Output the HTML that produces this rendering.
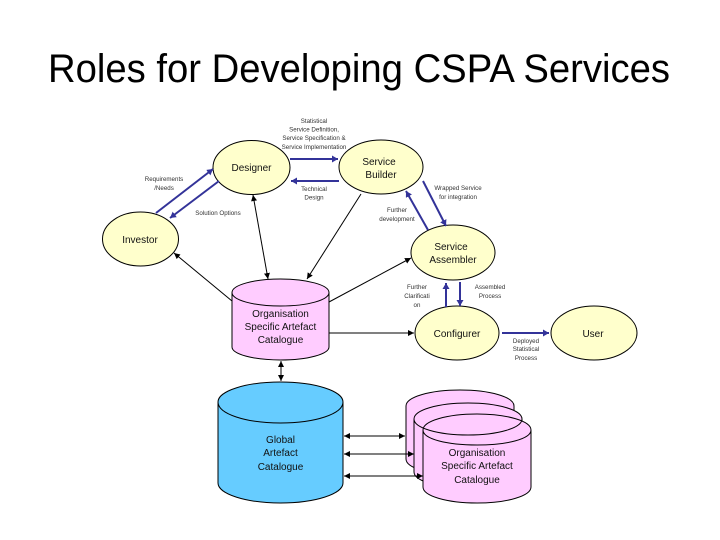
<!DOCTYPE html>
<html><head><meta charset="utf-8"><style>
html,body{margin:0;padding:0;background:#fff}
svg{display:block}
text{font-family:"Liberation Sans",sans-serif;text-anchor:middle}
.n{font-size:10px;fill:#111}
.s{font-size:6.2px;fill:#333}
.e{fill:#ffffcc;stroke:#000;stroke-width:1}
.p{fill:#ffccff;stroke:#000;stroke-width:1}
.b{fill:#66ccff;stroke:#000;stroke-width:1}
.t{stroke:#000;stroke-width:1;fill:none;marker-end:url(#k)}
.d{stroke:#000;stroke-width:1;fill:none;marker-end:url(#k);marker-start:url(#ks)}
.h{stroke:#333399;stroke-width:2;fill:none;marker-end:url(#u)}
</style></head><body>
<svg width="720" height="540" viewBox="0 0 720 540" xmlns="http://www.w3.org/2000/svg">
<defs>
<marker id="k" markerWidth="7" markerHeight="6" refX="6" refY="3" orient="auto" markerUnits="userSpaceOnUse"><path d="M0 0L6 3L0 6z" fill="#000"/></marker>
<marker id="ks" markerWidth="7" markerHeight="6" refX="0" refY="3" orient="auto" markerUnits="userSpaceOnUse"><path d="M6 0L0 3L6 6z" fill="#000"/></marker>
<marker id="u" markerWidth="7" markerHeight="7" refX="6" refY="3.5" orient="auto" markerUnits="userSpaceOnUse"><path d="M0 0L6 3.5L0 7z" fill="#333399"/></marker>
</defs>
<text x="359" y="82" font-size="40" fill="#000" textLength="622" lengthAdjust="spacingAndGlyphs">Roles for Developing CSPA Services</text>

<ellipse class="e" cx="251.5" cy="167.5" rx="38.5" ry="27"/>
<ellipse class="e" cx="381" cy="167" rx="42" ry="27"/>
<ellipse class="e" cx="140.5" cy="239" rx="38" ry="27"/>
<ellipse class="e" cx="453" cy="252.5" rx="42" ry="27.5"/>
<ellipse class="e" cx="457" cy="333" rx="42" ry="27"/>
<ellipse class="e" cx="594" cy="333" rx="43" ry="27"/>

<path class="p" d="M232 292.5V347C232 354 253 360 280.500 360S329 354 329 347V292.500C329 285 307 279 280.500 279S232 285 232 292.500Z"/>
<path fill="none" stroke="#000" d="M232 292.500C232 300 253 306 280.500 306S329 300 329 292.500"/>

<path class="b" d="M218 402V483C218 494 246 503 280.500 503S343 494 343 483V402C343 391 315 382 280.500 382S218 391 218 402Z"/>
<path fill="none" stroke="#000" d="M218 402C218 414 246 423 280.500 423S343 414 343 402"/>

<path class="p" d="M406 406V459C406 468 430 475 460 475S514 468 514 459V406C514 397 490 390 460 390S406 397 406 406Z"/>
<path class="p" d="M414 419V472C414 481 438 488 468 488S522 481 522 472V419C522 410 498 403 468 403S414 410 414 419Z"/>
<path class="p" d="M423 430V487C423 496 447 503 477 503S531 496 531 487V430C531 421 507 414 477 414S423 421 423 430Z"/>
<path fill="none" stroke="#000" d="M414 419C414 428 438 435 468 435S522 428 522 419M423 430C423 439 447 445 477 445S531 439 531 430"/>

<line class="h" x1="290" y1="159" x2="338" y2="159"/>
<line class="h" x1="339" y1="181" x2="291" y2="181"/>
<line class="h" x1="156" y1="213" x2="213" y2="169"/>
<line class="h" x1="219" y1="181" x2="170" y2="218"/>
<line class="h" x1="423" y1="181" x2="446" y2="226"/>
<line class="h" x1="428" y1="230" x2="406" y2="191"/>
<line class="h" x1="446" y1="307" x2="446" y2="283"/>
<line class="h" x1="460" y1="282" x2="460" y2="306"/>
<line class="h" x1="502" y1="333" x2="549" y2="333"/>

<line class="d" x1="253" y1="195" x2="268" y2="279"/>
<line class="t" x1="361" y1="194" x2="307" y2="279"/>
<line class="t" x1="232" y1="301" x2="174" y2="253"/>
<line class="t" x1="329" y1="302" x2="411" y2="258"/>
<line class="t" x1="329" y1="333" x2="414" y2="333"/>
<line class="d" x1="281" y1="361" x2="281" y2="381"/>
<line class="d" x1="344" y1="436" x2="405" y2="436"/>
<line class="d" x1="344" y1="454" x2="414" y2="454"/>
<line class="d" x1="344" y1="476" x2="423" y2="476"/>

<text class="n" x="251.500" y="171">Designer</text>
<text class="n" x="379" y="165">Service</text>
<text class="n" x="381" y="178">Builder</text>
<text class="n" x="140" y="243">Investor</text>
<text class="n" x="451" y="250">Service</text>
<text class="n" x="453" y="263">Assembler</text>
<text class="n" x="457" y="337">Configurer</text>
<text class="n" x="593" y="337">User</text>
<text class="n" x="280.500" y="317">Organisation</text>
<text class="n" x="280.500" y="330">Specific Artefact</text>
<text class="n" x="280.500" y="343">Catalogue</text>
<text class="n" x="280.500" y="443">Global</text>
<text class="n" x="280.500" y="456">Artefact</text>
<text class="n" x="280.500" y="470">Catalogue</text>
<text class="n" x="477" y="456">Organisation</text>
<text class="n" x="477" y="469">Specific Artefact</text>
<text class="n" x="477" y="483">Catalogue</text>

<text class="s" x="314" y="123">Statistical</text>
<text class="s" x="314" y="131.500">Service Definition,</text>
<text class="s" x="314" y="140">Service Specification &amp;</text>
<text class="s" x="314" y="149">Service Implementation</text>
<text class="s" x="314" y="191">Technical</text>
<text class="s" x="314" y="199.500">Design</text>
<text class="s" x="164" y="181">Requirements</text>
<text class="s" x="164" y="190">/Needs</text>
<text class="s" x="218" y="215">Solution Options</text>
<text class="s" x="458" y="190">Wrapped Service</text>
<text class="s" x="458" y="199">for integration</text>
<text class="s" x="397" y="212">Further</text>
<text class="s" x="397" y="221">development</text>
<text class="s" x="417" y="289">Further</text>
<text class="s" x="417" y="298">Clarificati</text>
<text class="s" x="417" y="307">on</text>
<text class="s" x="490" y="289">Assembled</text>
<text class="s" x="490" y="298">Process</text>
<text class="s" x="526" y="343">Deployed</text>
<text class="s" x="526" y="351">Statistical</text>
<text class="s" x="526" y="360">Process</text>
</svg>
</body></html>
